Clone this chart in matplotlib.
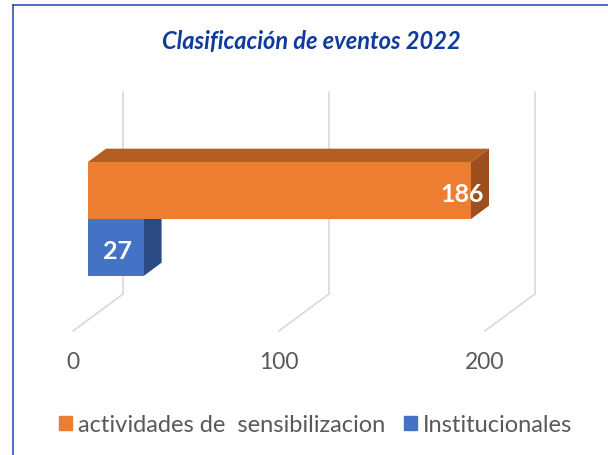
import matplotlib.pyplot as plt
from matplotlib.patches import Polygon, Patch, Rectangle

# data
categories = ["Institucionales", "actividades de  sensibilizacion"]
values = [27, 186]
ticks = [0, 100, 200]
title = "Clasificación de eventos 2022"

FRONT = ["#4472C4", "#ED7D31"]
TOP = ["#34599C", "#B45F22"]
SIDE = ["#2C4A83", "#9C4F1D"]
GRID = "#D9D9D9"
TXT = "#595959"

W, H = 608, 456
# pixel layout of the projection
s = 383 / 186.0          # px per value unit (front plane)
x0_px = 88               # value 0 on bar front plane
row_px = 57              # bar thickness in px
y0_px = 248.5            # centre of first row
depth_dx, depth_dy = 50 / s, 37 / row_px   # full depth, in data units
bar_d0, bar_d1 = 0.3, 0.66                 # bar extent along depth

plt.rcParams["font.family"] = ["Lato", "DejaVu Sans"]

fig = plt.figure(figsize=(W / 100, H / 100), dpi=100)
ax = fig.add_axes([0, 0, 1, 1])
ax.set_xlim(-x0_px / s, (W - x0_px) / s)
ax.set_ylim((y0_px - H) / row_px, y0_px / row_px)
ax.axis("off")


def P(v, y, d):
    # point at value v, height y (on bar front plane), depth d
    return (v + (d - bar_d0) * depth_dx, y + (d - bar_d0) * depth_dy)


# back wall gridlines + floor
floor_y = (y0_px - 332) / row_px + bar_d0 * depth_dy
wall_top = (y0_px - 93) / row_px
for t in ticks:
    xb, yb = P(t, floor_y, 1.0)
    ax.plot([xb, xb], [yb, wall_top], color=GRID, lw=1.2, zorder=1)
    xf, yf = P(t, floor_y, 0.0)
    ax.plot([xf, xb], [yf, yb], color=GRID, lw=1.2, zorder=1)
    ax.text(xf, yf - (363 - 332) / row_px, str(t), ha="center", va="center",
            fontsize=16.5, color=TXT)

# 3D bars
label_x = [values[0] / 2 + 0.8, values[1] - 4.5]
for i, v in enumerate(values):
    y_lo, y_hi = i - 0.5, i + 0.5
    top = [P(0, y_hi, bar_d0), P(v, y_hi, bar_d0), P(v, y_hi, bar_d1), P(0, y_hi, bar_d1)]
    side = [P(v, y_lo, bar_d0), P(v, y_lo, bar_d1), P(v, y_hi, bar_d1), P(v, y_hi, bar_d0)]
    ax.add_patch(Polygon(top, closed=True, fc=TOP[i], ec="none", zorder=2 + i))
    ax.add_patch(Polygon(side, closed=True, fc=SIDE[i], ec="none", zorder=2 + i))
    ax.add_patch(Rectangle((0, y_lo), v, 1.0, fc=FRONT[i], ec="none", zorder=2 + i))
    ax.text(label_x[i], i - 0.05, str(v), ha="center", va="center",
            fontsize=18, fontweight="bold", color="white", zorder=5)

fig.text(311 / W, 1 - 42 / H, title, ha="center", va="center", fontsize=17,
         fontweight="bold", style="italic", color="#0F3A9E")

handles = [Patch(color=FRONT[1], label=categories[1]),
           Patch(color=FRONT[0], label=categories[0])]
fig.legend(handles=handles, loc="center", bbox_to_anchor=(316 / W, 1 - 426 / H),
           ncol=2, frameon=False, fontsize=17, labelcolor=TXT,
           handlelength=0.55, handleheight=0.55, handletextpad=0.25,
           columnspacing=0.8)

# frame of the chart area
fig.add_artist(plt.Line2D([13 / W, 13 / W], [0, 1 - 6 / H], color="#2E54B0",
                          lw=1.2, transform=fig.transFigure))
fig.add_artist(plt.Line2D([13 / W, 1], [1 - 6 / H, 1 - 6 / H], color="#2E54B0",
                          lw=1.2, transform=fig.transFigure))

fig.savefig("out.png", dpi=100)
